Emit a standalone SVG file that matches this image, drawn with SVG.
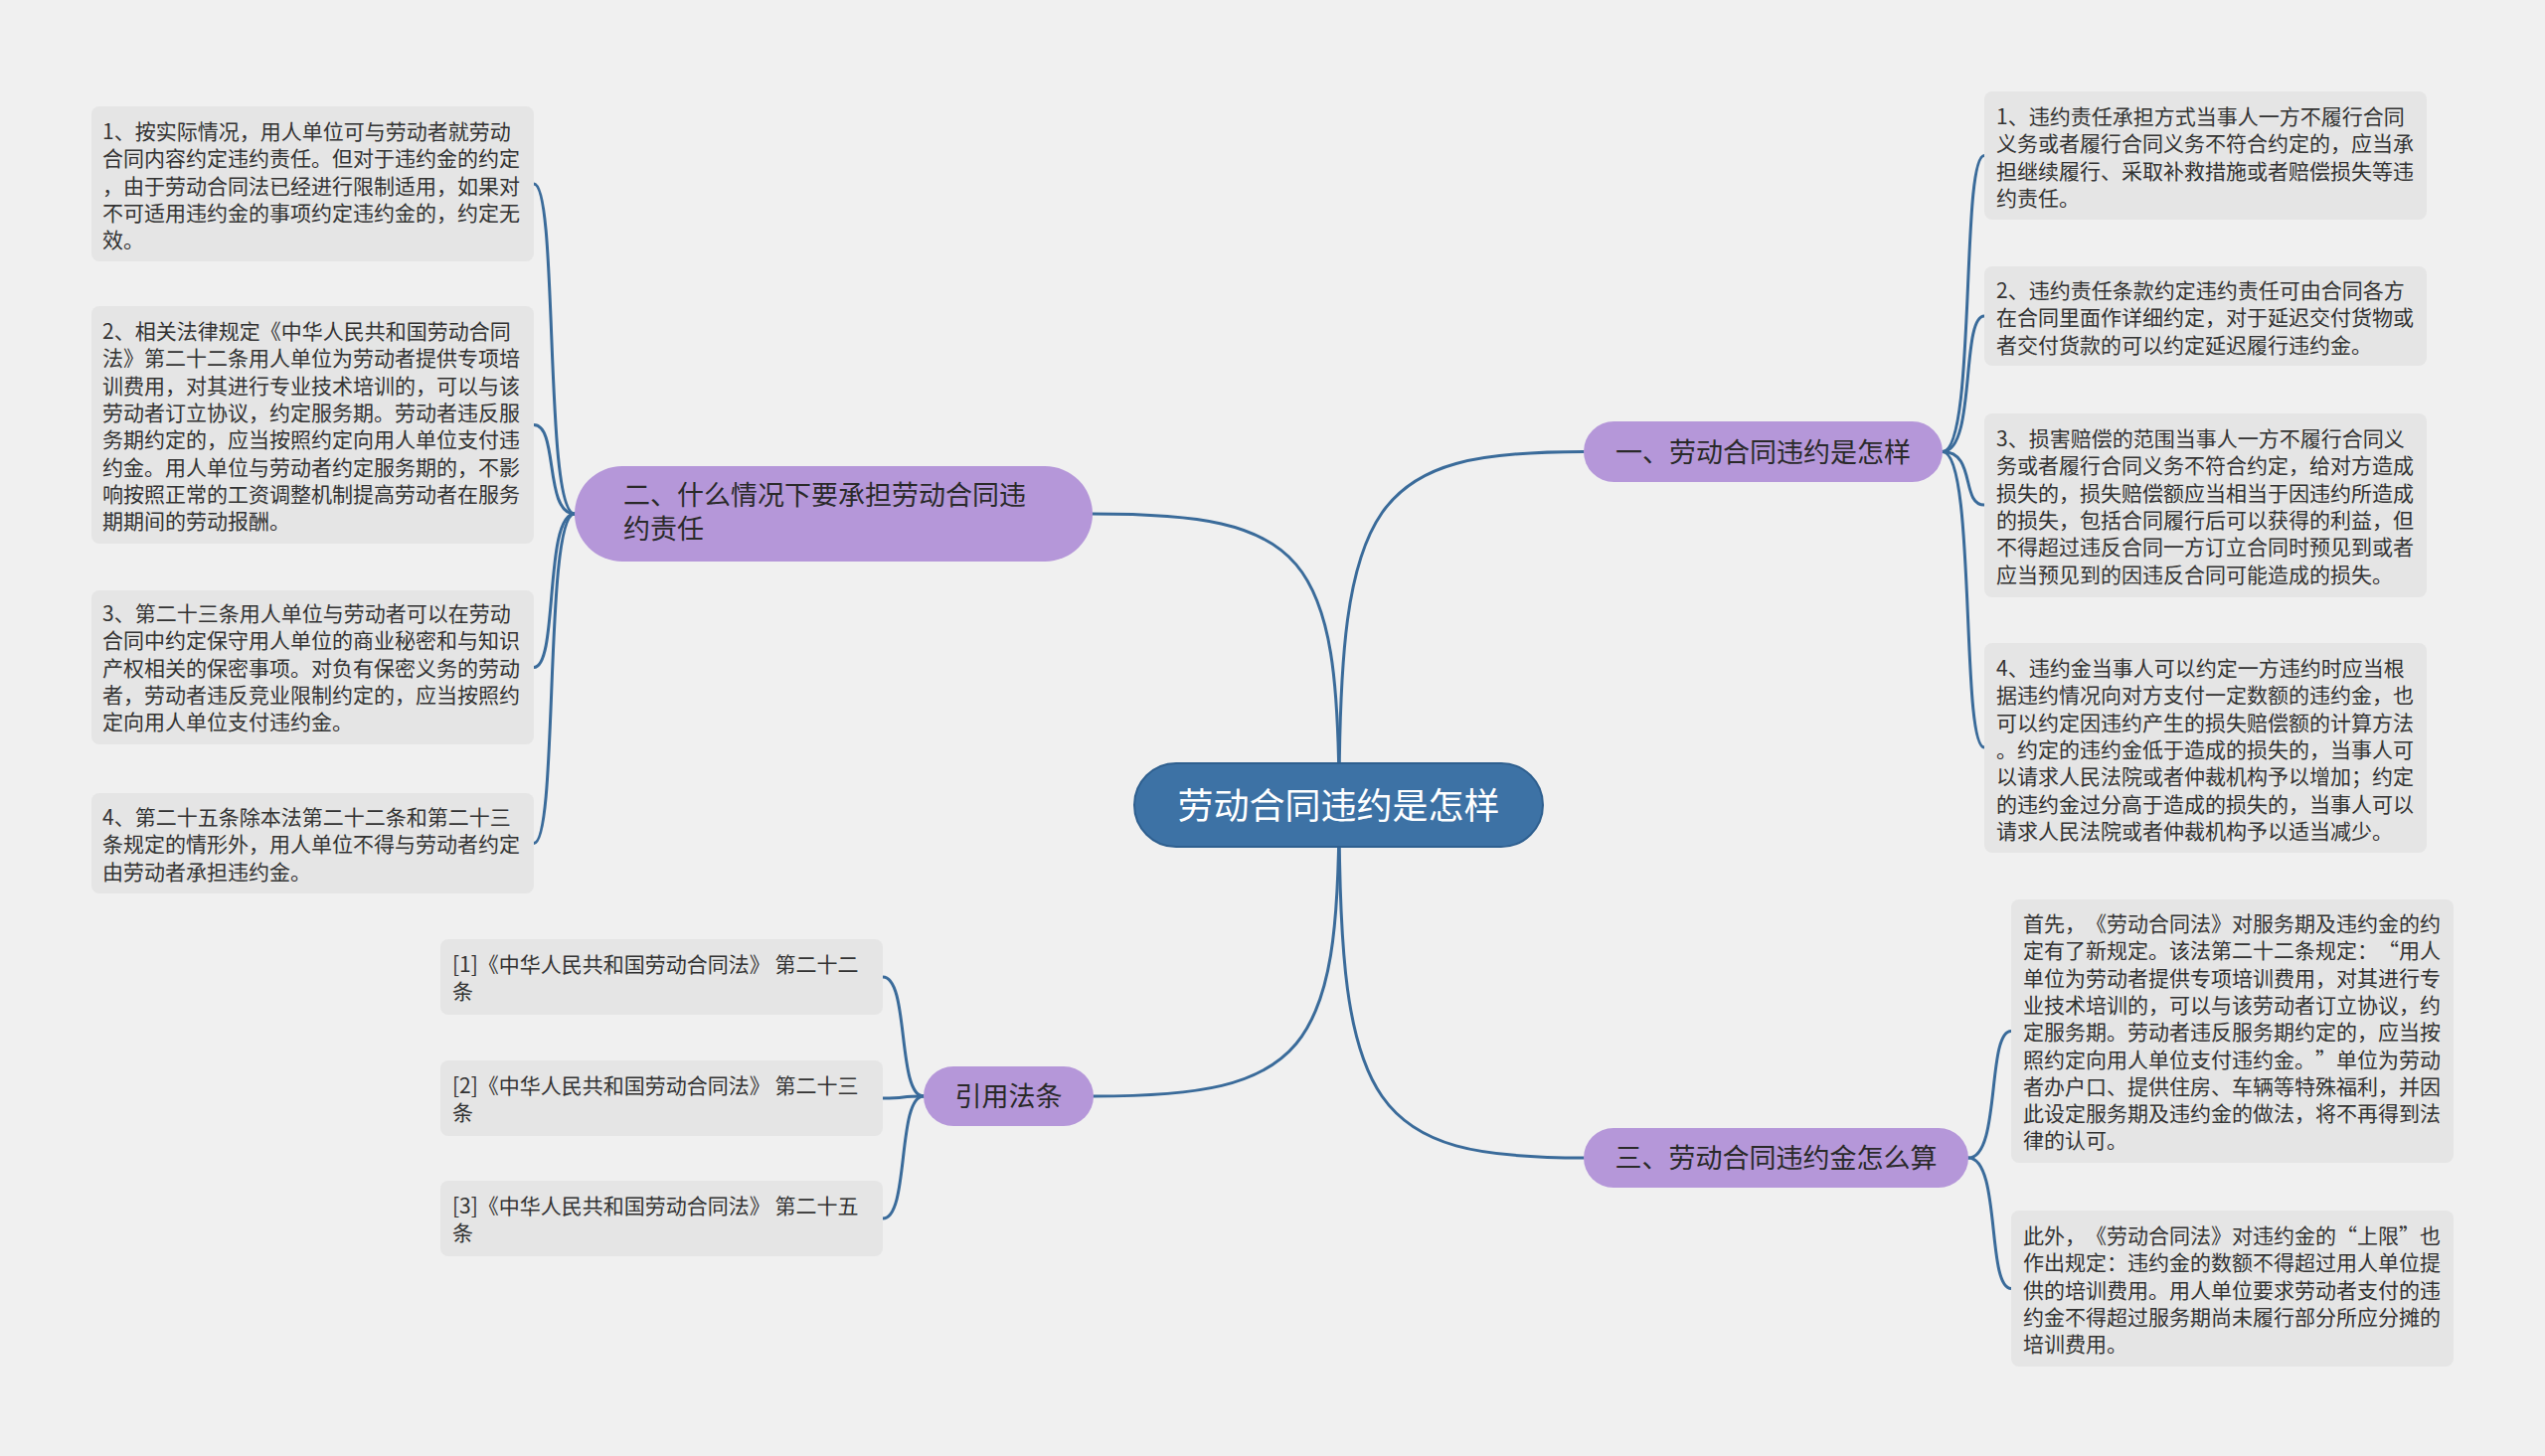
<svg xmlns="http://www.w3.org/2000/svg" width="2560" height="1465" viewBox="0 0 2560 1465">
<style>
.bg{fill:#f0f0f0}
text{text-spacing-trim:space-all}
.leaf rect{fill:#e5e5e5}
.leaf text{font-family:"Noto Sans CJK SC","Noto Sans",sans-serif;font-size:21px;fill:#333}
.branch rect{fill:#b597d9}
.branch text{font-family:"Noto Sans CJK SC","Noto Sans",sans-serif;font-size:27px;fill:#2a2a2a}
.root rect{fill:#3d72a5;stroke:#2e5f8f;stroke-width:2}
.root text{font-family:"Noto Sans CJK SC","Noto Sans",sans-serif;font-size:36px;fill:#ffffff}
.conn path{fill:none;stroke:#3a6b9a;stroke-width:3;stroke-linecap:round}
</style>
<rect class="bg" x="0" y="0" width="2560" height="1465"/>
<g class="conn" id="connectors">
<path d="M1347 810 C1347 500 1380 454.5 1593 454.5"/>
<path d="M1347 810 C1347 555 1314 517 1099 517"/>
<path d="M1347 810 C1347 1118 1380 1165 1593 1165"/>
<path d="M1347 810 C1347 1060 1314 1103 1100 1103"/>
<path d="M1954 454.5 C1988 454.5 1972 156.5 1996 156.5"/>
<path d="M1954 454.5 C1988 454.5 1972 318 1996 318"/>
<path d="M1954 454.5 C1988 454.5 1972 508 1996 508"/>
<path d="M1954 454.5 C1988 454.5 1972 752 1996 752"/>
<path d="M1980 1165 C2013 1165 1998 1037.5 2023 1037.5"/>
<path d="M1980 1165 C2013 1165 1998 1296.5 2023 1296.5"/>
<path d="M578 517 C547 517 562 185 537 185"/>
<path d="M578 517 C547 517 562 427.5 537 427.5"/>
<path d="M578 517 C547 517 562 671.5 537 671.5"/>
<path d="M578 517 C547 517 562 848.5 537 848.5"/>
<path d="M929 1103 C902 1103 915 983 888 983"/>
<path d="M929 1103 C902 1103 915 1105 888 1105"/>
<path d="M929 1103 C902 1103 915 1226 888 1226"/>
</g>
<g class="root" id="root">
<rect x="1141" y="768" width="411" height="84" rx="42"/>
<text x="1346.5" y="824" text-anchor="middle">劳动合同违约是怎样</text>
</g>
<g class="branch" id="b1">
<rect x="1593" y="424" width="361" height="61" rx="30.5"/>
<text x="1773.5" y="465" text-anchor="middle">一、劳动合同违约是怎样</text>
</g>
<g class="branch" id="b2">
<rect x="578" y="469" width="521" height="96" rx="48"/>
<text><tspan x="627" y="508">二、什么情况下要承担劳动合同违</tspan><tspan x="627" y="542">约责任</tspan></text>
</g>
<g class="branch" id="b3">
<rect x="1593" y="1135" width="387" height="60" rx="30"/>
<text x="1786.5" y="1175" text-anchor="middle">三、劳动合同违约金怎么算</text>
</g>
<g class="branch" id="b4">
<rect x="929" y="1073" width="171" height="60" rx="30"/>
<text x="1014.5" y="1113" text-anchor="middle">引用法条</text>
</g>
<g class="leaf" id="r1">
<rect x="1996" y="92" width="445" height="129" rx="8"/>
<text><tspan x="2008" y="125">1、违约责任承担方式当事人一方不履行合同</tspan><tspan x="2008" dy="27.3">义务或者履行合同义务不符合约定的，应当承</tspan><tspan x="2008" dy="27.3">担继续履行、采取补救措施或者赔偿损失等违</tspan><tspan x="2008" dy="27.3">约责任。</tspan></text>
</g>
<g class="leaf" id="r2">
<rect x="1996" y="268" width="445" height="100" rx="8"/>
<text><tspan x="2008" y="300">2、违约责任条款约定违约责任可由合同各方</tspan><tspan x="2008" dy="27.3">在合同里面作详细约定，对于延迟交付货物或</tspan><tspan x="2008" dy="27.3">者交付货款的可以约定延迟履行违约金。</tspan></text>
</g>
<g class="leaf" id="r3">
<rect x="1996" y="416" width="445" height="185" rx="8"/>
<text><tspan x="2008" y="449">3、损害赔偿的范围当事人一方不履行合同义</tspan><tspan x="2008" dy="27.3">务或者履行合同义务不符合约定，给对方造成</tspan><tspan x="2008" dy="27.3">损失的，损失赔偿额应当相当于因违约所造成</tspan><tspan x="2008" dy="27.3">的损失，包括合同履行后可以获得的利益，但</tspan><tspan x="2008" dy="27.3">不得超过违反合同一方订立合同时预见到或者</tspan><tspan x="2008" dy="27.3">应当预见到的因违反合同可能造成的损失。</tspan></text>
</g>
<g class="leaf" id="r4">
<rect x="1996" y="647" width="445" height="211" rx="8"/>
<text><tspan x="2008" y="680">4、违约金当事人可以约定一方违约时应当根</tspan><tspan x="2008" dy="27.3">据违约情况向对方支付一定数额的违约金，也</tspan><tspan x="2008" dy="27.3">可以约定因违约产生的损失赔偿额的计算方法</tspan><tspan x="2008" dy="27.3">。约定的违约金低于造成的损失的，当事人可</tspan><tspan x="2008" dy="27.3">以请求人民法院或者仲裁机构予以增加；约定</tspan><tspan x="2008" dy="27.3">的违约金过分高于造成的损失的，当事人可以</tspan><tspan x="2008" dy="27.3">请求人民法院或者仲裁机构予以适当减少。</tspan></text>
</g>
<g class="leaf" id="r5">
<rect x="2023" y="905" width="445" height="265" rx="8"/>
<text><tspan x="2035" y="937">首先，《劳动合同法》对服务期及违约金的约</tspan><tspan x="2035" dy="27.3">定有了新规定。该法第二十二条规定：“用人</tspan><tspan x="2035" dy="27.3">单位为劳动者提供专项培训费用，对其进行专</tspan><tspan x="2035" dy="27.3">业技术培训的，可以与该劳动者订立协议，约</tspan><tspan x="2035" dy="27.3">定服务期。劳动者违反服务期约定的，应当按</tspan><tspan x="2035" dy="27.3">照约定向用人单位支付违约金。”单位为劳动</tspan><tspan x="2035" dy="27.3">者办户口、提供住房、车辆等特殊福利，并因</tspan><tspan x="2035" dy="27.3">此设定服务期及违约金的做法，将不再得到法</tspan><tspan x="2035" dy="27.3">律的认可。</tspan></text>
</g>
<g class="leaf" id="r6">
<rect x="2023" y="1218" width="445" height="157" rx="8"/>
<text><tspan x="2035" y="1251">此外，《劳动合同法》对违约金的“上限”也</tspan><tspan x="2035" dy="27.3">作出规定：违约金的数额不得超过用人单位提</tspan><tspan x="2035" dy="27.3">供的培训费用。用人单位要求劳动者支付的违</tspan><tspan x="2035" dy="27.3">约金不得超过服务期尚未履行部分所应分摊的</tspan><tspan x="2035" dy="27.3">培训费用。</tspan></text>
</g>
<g class="leaf" id="l1">
<rect x="92" y="107" width="445" height="156" rx="8"/>
<text><tspan x="103" y="140">1、按实际情况，用人单位可与劳动者就劳动</tspan><tspan x="103" dy="27.3">合同内容约定违约责任。但对于违约金的约定</tspan><tspan x="103" dy="27.3">，由于劳动合同法已经进行限制适用，如果对</tspan><tspan x="103" dy="27.3">不可适用违约金的事项约定违约金的，约定无</tspan><tspan x="103" dy="27.3">效。</tspan></text>
</g>
<g class="leaf" id="l2">
<rect x="92" y="308" width="445" height="239" rx="8"/>
<text><tspan x="103" y="341">2、相关法律规定《中华人民共和国劳动合同</tspan><tspan x="103" dy="27.3">法》第二十二条用人单位为劳动者提供专项培</tspan><tspan x="103" dy="27.3">训费用，对其进行专业技术培训的，可以与该</tspan><tspan x="103" dy="27.3">劳动者订立协议，约定服务期。劳动者违反服</tspan><tspan x="103" dy="27.3">务期约定的，应当按照约定向用人单位支付违</tspan><tspan x="103" dy="27.3">约金。用人单位与劳动者约定服务期的，不影</tspan><tspan x="103" dy="27.3">响按照正常的工资调整机制提高劳动者在服务</tspan><tspan x="103" dy="27.3">期期间的劳动报酬。</tspan></text>
</g>
<g class="leaf" id="l3">
<rect x="92" y="594" width="445" height="155" rx="8"/>
<text><tspan x="103" y="625">3、第二十三条用人单位与劳动者可以在劳动</tspan><tspan x="103" dy="27.3">合同中约定保守用人单位的商业秘密和与知识</tspan><tspan x="103" dy="27.3">产权相关的保密事项。对负有保密义务的劳动</tspan><tspan x="103" dy="27.3">者，劳动者违反竞业限制约定的，应当按照约</tspan><tspan x="103" dy="27.3">定向用人单位支付违约金。</tspan></text>
</g>
<g class="leaf" id="l4">
<rect x="92" y="798" width="445" height="101" rx="8"/>
<text><tspan x="103" y="830">4、第二十五条除本法第二十二条和第二十三</tspan><tspan x="103" dy="27.3">条规定的情形外，用人单位不得与劳动者约定</tspan><tspan x="103" dy="27.3">由劳动者承担违约金。</tspan></text>
</g>
<g class="leaf" id="c1">
<rect x="443" y="945" width="445" height="76" rx="8"/>
<text><tspan x="455" y="978">[1]《中华人民共和国劳动合同法》 第二十二</tspan><tspan x="455" dy="27.3">条</tspan></text>
</g>
<g class="leaf" id="c2">
<rect x="443" y="1067" width="445" height="76" rx="8"/>
<text><tspan x="455" y="1100">[2]《中华人民共和国劳动合同法》 第二十三</tspan><tspan x="455" dy="27.3">条</tspan></text>
</g>
<g class="leaf" id="c3">
<rect x="443" y="1188" width="445" height="76" rx="8"/>
<text><tspan x="455" y="1221">[3]《中华人民共和国劳动合同法》 第二十五</tspan><tspan x="455" dy="27.3">条</tspan></text>
</g>
</svg>
